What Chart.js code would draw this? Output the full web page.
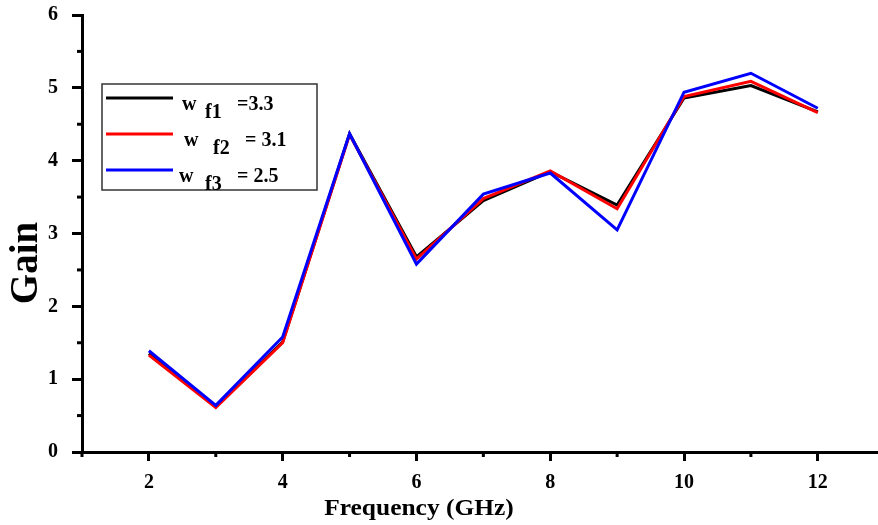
<!DOCTYPE html>
<html>
<head>
<meta charset="utf-8">
<script src="https://cdn.jsdelivr.net/npm/chart.js@4.4.1/dist/chart.umd.min.js"></script>
<style>
  html, body { margin: 0; padding: 0; background: #fff; }
  #wrap { width: 878px; height: 525px; position: relative; }
</style>
</head>
<body>
<div id="wrap"><canvas id="graficoGanho" width="878" height="525"></canvas></div>
<script>
// frequency points (GHz)
var freq = [2, 3, 4, 5, 6, 7, 8, 9, 10, 11, 12];
// gain for each feed width
var gainF1 = [1.35, 0.62, 1.51, 4.37, 2.68, 3.45, 3.85, 3.39, 4.86, 5.03, 4.67];
var gainF2 = [1.33, 0.61, 1.50, 4.36, 2.65, 3.48, 3.86, 3.34, 4.88, 5.09, 4.66];
var gainF3 = [1.39, 0.64, 1.58, 4.37, 2.58, 3.54, 3.83, 3.05, 4.94, 5.20, 4.72];

var seriesNames = ["w f1 =3.3", "w f2 = 3.1", "w f3 = 2.5"];
var legendMain = ["w", "w", "w"];
var legendSub = ["f1", "f2", "f3"];
var legendVal = ["=3.3", "= 3.1", "= 2.5"];

var xTicks = [2, 4, 6, 8, 10, 12];
var xMinor = [1, 3, 5, 7, 9, 11];
var yTicks = [0, 1, 2, 3, 4, 5, 6];
var yMinor = [0.5, 1.5, 2.5, 3.5, 4.5, 5.5];

var cores = ["#000000", "#ff0000", "#0000ff"];
var fonte = "'Liberation Serif', 'Times New Roman', serif";

function pontos(vals) {
  return freq.map(function (f, i) { return { x: f, y: vals[i] }; });
}

// minor ticks, titles and the boxed legend
var extras = {
  id: "extras",
  afterDraw: function (chart) {
    var ctx = chart.ctx;
    var xs = chart.scales.x, ys = chart.scales.y;
    var area = chart.chartArea;
    ctx.save();
    ctx.strokeStyle = "#000";
    ctx.lineWidth = 3;
    xMinor.forEach(function (v) {
      var px = xs.getPixelForValue(v);
      ctx.beginPath();
      ctx.moveTo(px, area.bottom);
      ctx.lineTo(px, area.bottom + 5);
      ctx.stroke();
    });
    yMinor.forEach(function (v) {
      var py = ys.getPixelForValue(v);
      ctx.beginPath();
      ctx.moveTo(area.left, py);
      ctx.lineTo(area.left - 5, py);
      ctx.stroke();
    });

    // axis titles
    ctx.fillStyle = "#000";
    ctx.textAlign = "center";
    ctx.textBaseline = "middle";
    ctx.save();
    ctx.translate(419, 509);
    ctx.scale(1.06, 1);
    ctx.font = "bold 24px " + fonte;
    ctx.fillText("Frequency (GHz)", 0, 0);
    ctx.restore();
    ctx.save();
    ctx.translate(27, 263);
    ctx.rotate(-Math.PI / 2);
    ctx.font = "bold 39px " + fonte;
    ctx.fillText("Gain", 0, 0);
    ctx.restore();

    // legend
    ctx.lineWidth = 1.5;
    ctx.strokeStyle = "#333";
    ctx.strokeRect(102, 84, 215, 106);
    var linhaY = [98, 134, 170];
    var wX = [182, 184, 179];
    var subX = [205, 213, 205];
    var valX = [237, 245, 237];
    ctx.textAlign = "left";
    ctx.textBaseline = "alphabetic";
    for (var i = 0; i < 3; i++) {
      ctx.strokeStyle = cores[i];
      ctx.lineWidth = 3;
      ctx.beginPath();
      ctx.moveTo(106, linhaY[i]);
      ctx.lineTo(173, linhaY[i]);
      ctx.stroke();
      ctx.font = "bold 20px " + fonte;
      ctx.fillText(legendMain[i], wX[i], linhaY[i] + 12);
      ctx.fillText(legendSub[i], subX[i], linhaY[i] + 20);
      ctx.fillText(legendVal[i], valX[i], linhaY[i] + 12);
    }
    ctx.restore();
  }
};

var el = document.getElementById("graficoGanho");
new Chart(el, {
  type: "line",
  data: {
    datasets: [
      { label: seriesNames[0], data: pontos(gainF1), borderColor: cores[0], order: 3 },
      { label: seriesNames[1], data: pontos(gainF2), borderColor: cores[1], order: 2 },
      { label: seriesNames[2], data: pontos(gainF3), borderColor: cores[2], order: 1 },
    ],
  },
  options: {
    responsive: false,
    animation: false,
    devicePixelRatio: 1,
    layout: { padding: { top: 15, right: 0, left: 0, bottom: 0 } },
    elements: {
      line: { borderWidth: 3, tension: 0, fill: false },
      point: { radius: 0, hoverRadius: 0 },
    },
    plugins: {
      legend: { display: false },
      tooltip: { enabled: false },
    },
    scales: {
      x: {
        type: "linear",
        min: 1,
        max: 12.9,
        afterBuildTicks: function (scale) {
          scale.ticks = xTicks.map(function (v) { return { value: v }; });
        },
        afterFit: function (scale) {
          scale.height = 73;
          scale.paddingLeft = 0;
          scale.paddingRight = 0;
        },
        border: { display: true, color: "#000", width: 3 },
        grid: { drawOnChartArea: false, drawTicks: true, tickLength: 9, tickWidth: 3, tickColor: "#000" },
        ticks: {
          color: "#000",
          padding: 10,
          maxRotation: 0,
          font: { family: fonte, size: 20, weight: "bold" },
        },
      },
      y: {
        min: 0,
        max: 6,
        afterBuildTicks: function (scale) {
          scale.ticks = yTicks.map(function (v) { return { value: v }; });
        },
        afterFit: function (scale) {
          scale.width = 82;
          scale.paddingTop = 0;
          scale.paddingBottom = 0;
        },
        border: { display: true, color: "#000", width: 3 },
        grid: { drawOnChartArea: false, drawTicks: true, tickLength: 10, tickWidth: 3, tickColor: "#000" },
        ticks: {
          color: "#000",
          padding: 14,
          font: { family: fonte, size: 20, weight: "bold" },
        },
      },
    },
  },
  plugins: [extras],
});
</script>
</body>
</html>
